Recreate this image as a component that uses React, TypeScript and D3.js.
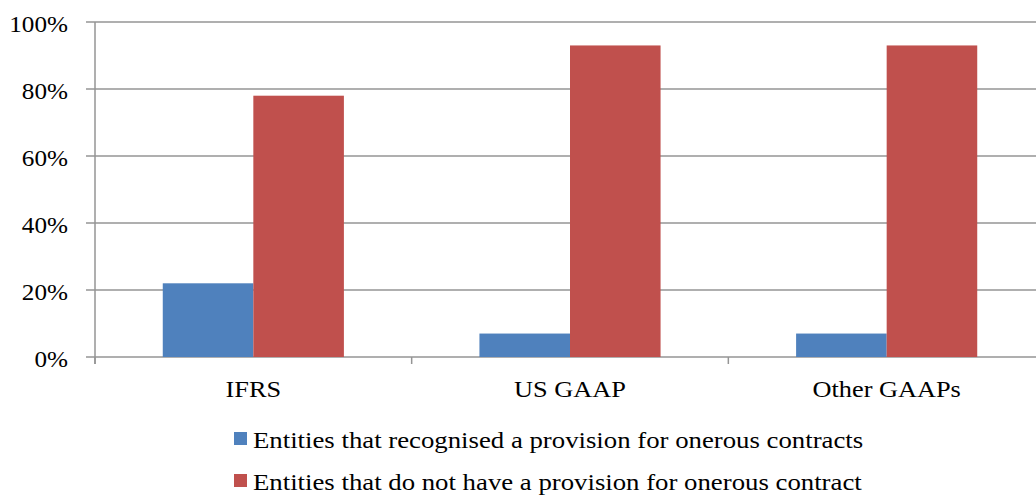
import React from "react";
import * as d3 from "d3";

const categories = ["IFRS", "US GAAP", "Other GAAPs"];
const seriesNames = [
  "Entities that recognised a provision for onerous contracts",
  "Entities that do not have a provision for onerous contract",
];
const recognised = [22, 7, 7];
const notRecognised = [78, 93, 93];
const yTicks = [0, 20, 40, 60, 80, 100];
const colors = ["#4F81BD", "#C0504D"];

const SX = 1.17;

function T({ x, y, anchor = "start", sx = SX, children }: { x: number; y: number; anchor?: string; sx?: number; children: React.ReactNode }) {
  return (
    <text
      transform={`translate(${x},${y}) scale(${sx},1)`}
      textAnchor={anchor}
      style={{ fontFamily: '"Liberation Serif"', fontSize: "22.5px" }}
      fill="#000"
    >
      {children}
    </text>
  );
}

export default function App() {
  const W = 1036, H = 495;
  const x0 = 95, x1 = 1045;
  const yTop = 22, yBot = 357;
  const x = d3.scaleBand<string>().domain(categories).range([x0, x1]).paddingInner(0).paddingOuter(0);
  const y = d3.scaleLinear().domain([0, 100]).range([yBot, yTop]);
  const bw = x.bandwidth();
  const barW = bw * 0.286;
  const series = [recognised, notRecognised];
  const grid = "#959595";
  return (
    <svg width={W} height={H} style={{ position: "absolute", left: 0, top: 0, background: "#fff" }}>
      {yTicks.map((t) => (
        <g key={t}>
          <line x1={86} x2={x1} y1={y(t)} y2={y(t)} stroke={grid} strokeWidth={1.5} />
          <T x={68} y={y(t) + 10} anchor="end" sx={1.12}>{`${t}%`}</T>
        </g>
      ))}
      <line x1={x0} x2={x0} y1={yTop} y2={yBot + 7} stroke={grid} strokeWidth={1.5} />
      {[...categories.map((c) => x(c) as number), x1].map((v, i) => (
        <line key={i} x1={v} x2={v} y1={yBot} y2={yBot + 7} stroke={grid} strokeWidth={1.5} />
      ))}
      {categories.map((c, ci) => {
        const cx = (x(c) as number) + bw / 2;
        return (
          <g key={c}>
            {series.map((s, si) => (
              <rect
                key={si}
                x={cx - barW + si * barW}
                y={y(s[ci])}
                width={barW}
                height={yBot - y(s[ci])}
                fill={colors[si]}
              />
            ))}
            <T x={cx} y={397} anchor="middle">{c}</T>
          </g>
        );
      })}
      {seriesNames.map((n, i) => (
        <g key={n}>
          <rect x={234} y={432 + i * 42} width={13} height={13} fill={colors[i]} />
          <T x={253} y={447.5 + i * 42} sx={1.19}>{n}</T>
        </g>
      ))}
    </svg>
  );
}
